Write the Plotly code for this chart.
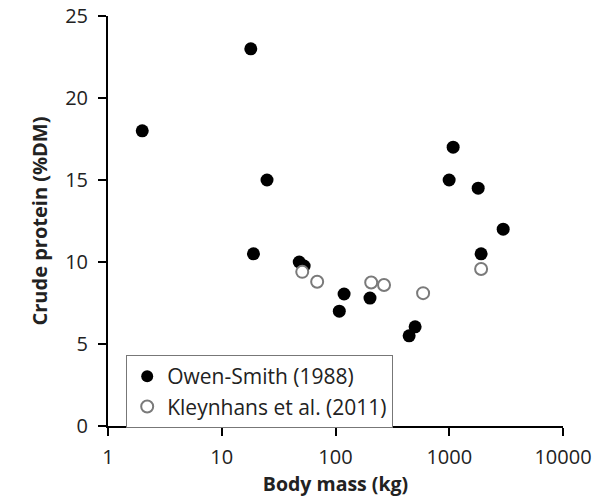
import plotly.graph_objects as go

owen_mass = [2, 18, 25, 19, 48, 53, 108, 119, 201, 444, 501, 998, 1082, 1796, 1906, 2980]
owen_cp = [18, 23, 15, 10.5, 10.0, 9.75, 7.0, 8.05, 7.8, 5.5, 6.05, 15.0, 17.0, 14.5, 10.5, 12.0]

kley_mass = [51, 69, 206, 267, 589, 1906]
kley_cp = [9.4, 8.8, 8.75, 8.6, 8.1, 9.57]

x_ticks = [1, 10, 100, 1000, 10000]
x_ticktext = ["1", "10", "100", "1000", "10000"]
y_ticks = [0, 5, 10, 15, 20, 25]

font_family = "Open Sans, Lato, sans-serif"

fig = go.Figure()
fig.add_trace(go.Scatter(
    x=owen_mass, y=owen_cp, mode="markers", name="Owen-Smith (1988)",
    marker=dict(size=13, color="black", line=dict(width=0)),
))
fig.add_trace(go.Scatter(
    x=kley_mass, y=kley_cp, mode="markers", name="Kleynhans et al. (2011)",
    marker=dict(size=12, color="white", line=dict(width=2, color="#7a7a7a")),
))

fig.update_layout(
    width=596, height=502,
    margin=dict(l=108, r=33, t=16, b=76, autoexpand=False),
    paper_bgcolor="white", plot_bgcolor="white",
    font=dict(family=font_family, size=19, color="#222"),
    showlegend=True,
    legend=dict(
        x=0.04, y=0.173, xanchor="left", yanchor="top",
        bgcolor="white", bordercolor="#777", borderwidth=1,
        font=dict(size=21, color="#222"),
        tracegroupgap=0, itemsizing="constant", itemwidth=30,
    ),
    xaxis=dict(
        type="log", range=[0, 4], automargin=False,
        tickvals=x_ticks, ticktext=x_ticktext,
        showgrid=False, zeroline=False,
        showline=True, linecolor="black", linewidth=2,
        ticks="outside", ticklen=8, tickwidth=2, tickcolor="black",
        tickfont=dict(size=20), ticklabelstandoff=4, ticklabeloverflow="allow",
        title=dict(text="<b>Body mass (kg)</b>", font=dict(size=19.5), standoff=8),
    ),
    yaxis=dict(
        range=[0, 25], tickvals=y_ticks, automargin=False,
        showgrid=False, zeroline=False,
        showline=True, linecolor="black", linewidth=2,
        ticks="outside", ticklen=8, tickwidth=2, tickcolor="black",
        tickfont=dict(size=20), ticklabelstandoff=6, ticklabeloverflow="allow",
        title=dict(text="<b>Crude protein (%DM)</b>", font=dict(size=20), standoff=12),
    ),
)

fig.write_html(
    "out.html",
    config={"displayModeBar": False},
    post_script="document.body.style.margin='0';",
)
